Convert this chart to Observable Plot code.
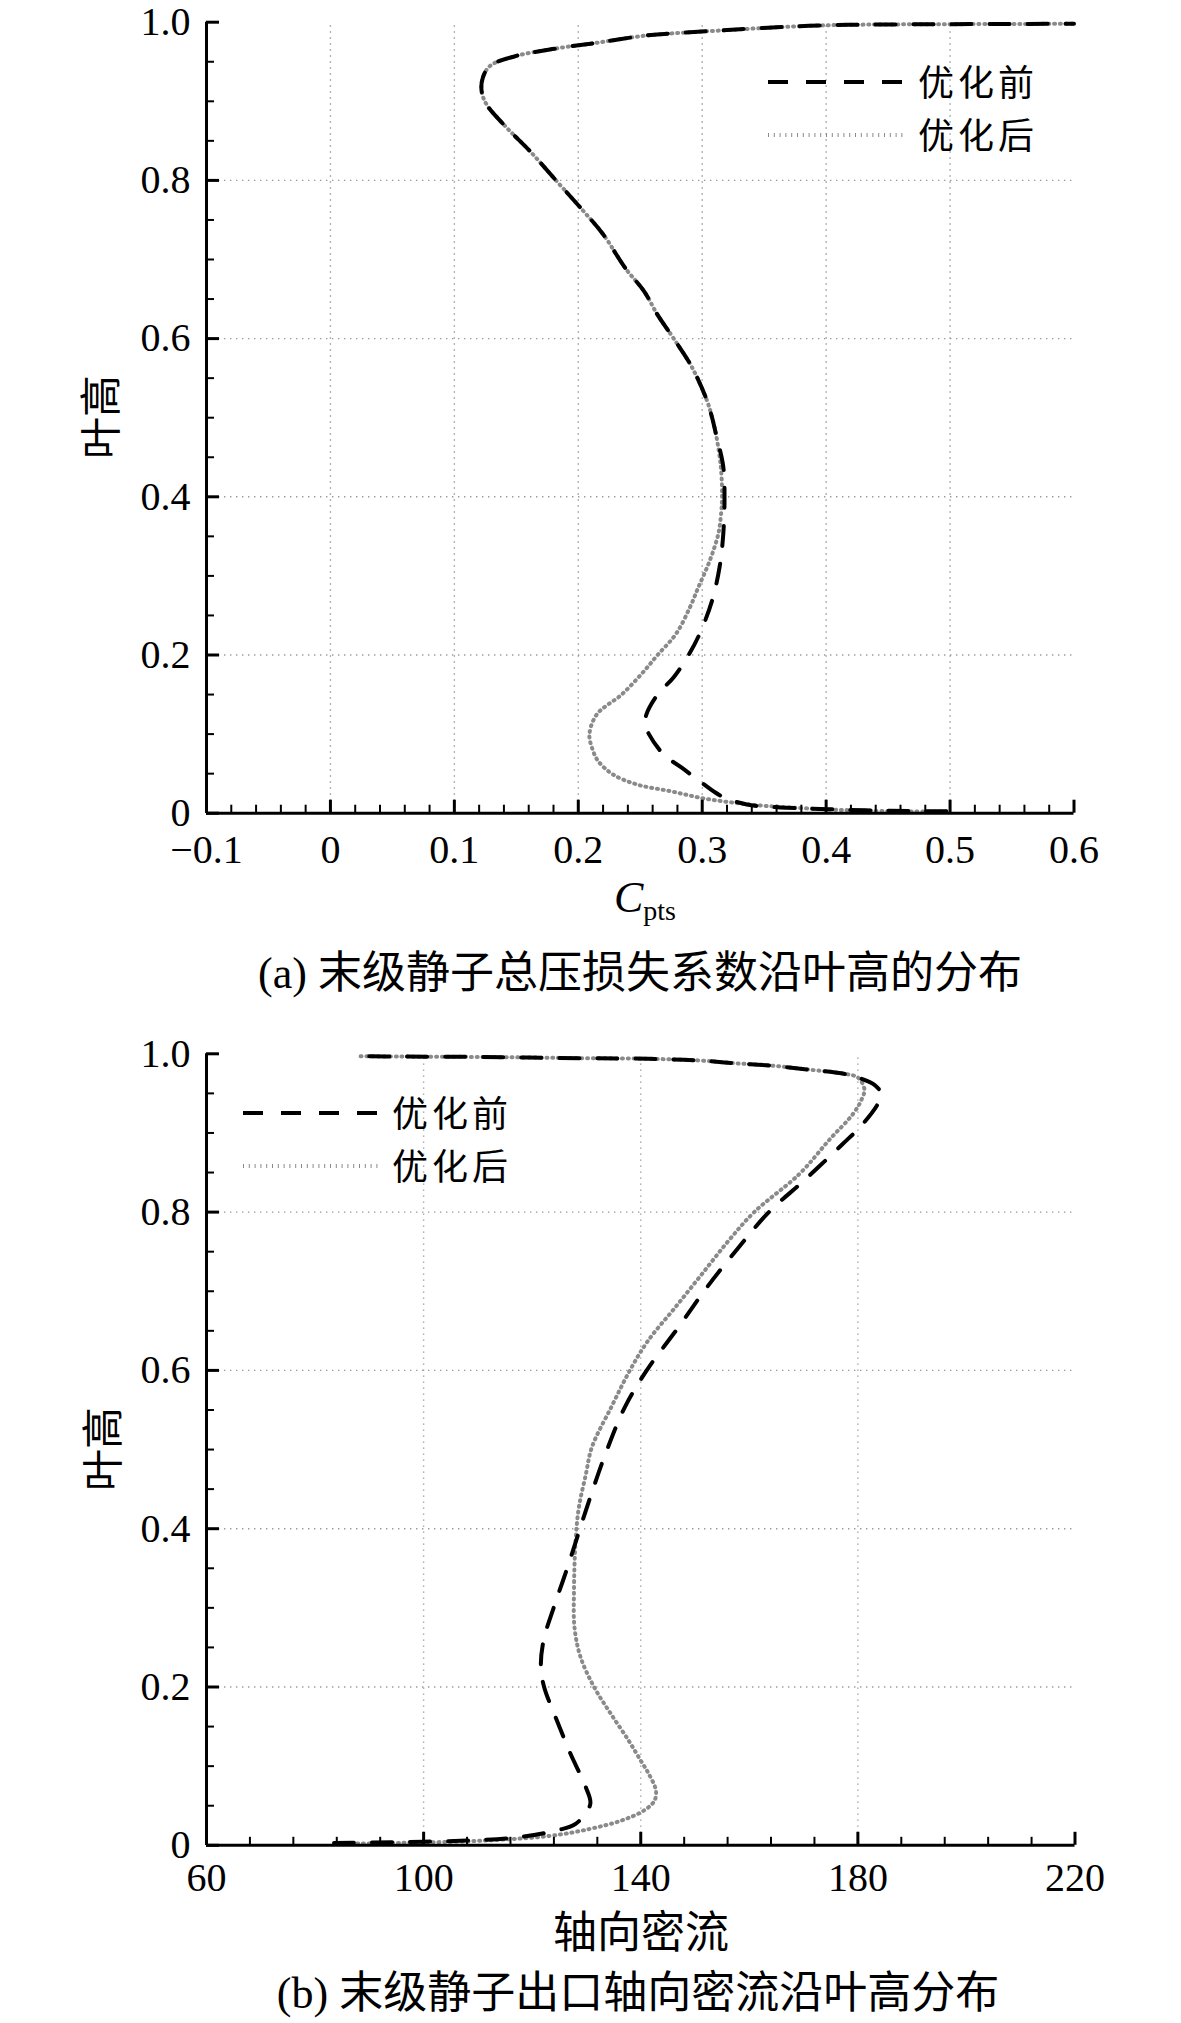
<!DOCTYPE html>
<html>
<head>
<meta charset="utf-8">
<script src="https://cdn.jsdelivr.net/npm/d3@7"></script>
<script src="https://cdn.jsdelivr.net/npm/@observablehq/plot@0.6"></script>
<style>
  html, body { margin: 0; padding: 0; background: #fff; }
  #root { position: relative; width: 1181px; height: 2023px; overflow: hidden; background: #fff; }
  #root > svg { position: absolute; left: 0; }
</style>
</head>
<body>
<div id="root"></div>
<script>
// ---------- Panel (a): total pressure loss coefficient vs blade height ----------
const cptsXTicks = [-0.1, 0, 0.1, 0.2, 0.3, 0.4, 0.5, 0.6];
const cptsXTickLabels = ["\u22120.1", "0", "0.1", "0.2", "0.3", "0.4", "0.5", "0.6"];
const cptsXGrid = [0, 0.1, 0.2, 0.3, 0.4, 0.5];
const heightTicks = [0, 0.2, 0.4, 0.6, 0.8, 1.0];
const heightTickLabels = ["0", "0.2", "0.4", "0.6", "0.8", "1.0"];
const heightGrid = [0.2, 0.4, 0.6, 0.8];

// shared upper part (both series coincide above ~0.5 blade height)
const cptsUpperX = [0.308, 0.304, 0.292, 0.277, 0.264, 0.253, 0.238, 0.220, 0.202, 0.182, 0.161, 0.142, 0.126, 0.122, 0.123, 0.129, 0.149, 0.179, 0.215, 0.254, 0.287, 0.320, 0.353, 0.386, 0.418, 0.500, 0.600];
const cptsUpperY = [0.500, 0.521, 0.563, 0.600, 0.630, 0.660, 0.689, 0.732, 0.765, 0.800, 0.837, 0.867, 0.896, 0.913, 0.930, 0.945, 0.957, 0.966, 0.974, 0.983, 0.987, 0.990, 0.993, 0.9954, 0.9967, 0.9975, 0.998];

// 优化前 (before optimisation), lower part
const cptsBeforeX = [0.497, 0.451, 0.402, 0.369, 0.336, 0.315, 0.300, 0.284, 0.269, 0.257, 0.254, 0.255, 0.264, 0.277, 0.289, 0.298, 0.308, 0.314, 0.317, 0.318, 0.317, 0.311];
const cptsBeforeY = [0.0025, 0.003, 0.005, 0.007, 0.011, 0.022, 0.038, 0.057, 0.074, 0.100, 0.112, 0.125, 0.150, 0.172, 0.200, 0.227, 0.269, 0.311, 0.353, 0.400, 0.438, 0.480];

// 优化后 (after optimisation), lower part
const cptsAfterX = [0.497, 0.435, 0.386, 0.353, 0.327, 0.300, 0.274, 0.248, 0.228, 0.216, 0.211, 0.209, 0.215, 0.235, 0.251, 0.264, 0.279, 0.290, 0.297, 0.304, 0.309, 0.313, 0.315, 0.316, 0.315, 0.311];
const cptsAfterY = [0.002, 0.003, 0.006, 0.009, 0.013, 0.019, 0.028, 0.036, 0.049, 0.066, 0.083, 0.100, 0.125, 0.150, 0.176, 0.200, 0.227, 0.260, 0.286, 0.311, 0.332, 0.353, 0.375, 0.400, 0.438, 0.480];

// ---------- Panel (b): axial mass flux vs blade height ----------
const fluxXTicks = [60, 100, 140, 180, 220];
const fluxXTickLabels = ["60", "100", "140", "180", "220"];
const fluxXGrid = [100, 140, 180];

const fluxBeforeX = [83.5, 95.8, 108.0, 117.3, 124.6, 128.0, 130.7, 129.9, 127.1, 124.3, 122.2, 121.6, 122.1, 124.0, 126.5, 128.8, 131.1, 133.8, 137.1, 141.1, 147.0, 152.2, 158.1, 163.6, 170.1, 177.2, 180.6, 183.7, 184.3, 183.2, 180.0, 177.2, 171.0, 164.2, 157.5, 150.7, 141.4, 129.1, 110.6, 96.0, 88.0];
const fluxBeforeY = [0.003, 0.004, 0.006, 0.010, 0.019, 0.027, 0.052, 0.073, 0.115, 0.162, 0.200, 0.225, 0.259, 0.301, 0.351, 0.400, 0.448, 0.500, 0.554, 0.600, 0.655, 0.705, 0.756, 0.800, 0.840, 0.886, 0.909, 0.937, 0.949, 0.960, 0.970, 0.975, 0.980, 0.985, 0.988, 0.9916, 0.9937, 0.9945, 0.996, 0.9965, 0.997];

const fluxAfterX = [83.5, 95.8, 111.1, 123.4, 130.8, 136.3, 140.6, 142.5, 142.8, 141.5, 140.0, 137.8, 134.5, 131.4, 128.9, 127.8, 127.7, 128.0, 128.6, 129.9, 131.0, 134.6, 138.0, 141.4, 146.4, 151.3, 156.2, 160.9, 169.2, 174.7, 179.1, 180.6, 181.2, 180.0, 177.2, 171.0, 164.2, 157.5, 150.7, 141.4, 129.1, 110.6, 96.0, 88.0];
const fluxAfterY = [0.002, 0.003, 0.006, 0.012, 0.021, 0.031, 0.044, 0.056, 0.069, 0.090, 0.107, 0.132, 0.166, 0.200, 0.238, 0.275, 0.322, 0.385, 0.427, 0.469, 0.503, 0.554, 0.600, 0.638, 0.680, 0.722, 0.764, 0.800, 0.848, 0.891, 0.924, 0.941, 0.955, 0.970, 0.975, 0.980, 0.985, 0.988, 0.9916, 0.9937, 0.9945, 0.996, 0.9965, 0.997];

// ---------- texts ----------
const legendLabels = ["优化前", "优化后"];
const captionA = "(a) 末级静子总压损失系数沿叶高的分布";
const captionB = "(b) 末级静子出口轴向密流沿叶高分布";
const yTitle = "叶高";
const xTitleB = "轴向密流";

// ---------- helpers ----------
const zip = (xs, ys) => xs.map((x, i) => ({x, y: ys[i]}));
const W = 1181;
const FONT_SERIF = '"Liberation Serif", "Times New Roman", serif';
const FONT_CJK = '"Liberation Serif", "Noto Sans CJK SC", serif';
const DOT = {stroke: "#8a8a8a", width: 4, dash: "1,4.8"};
const DASH = {stroke: "#000", width: 4, dash: "20,18"};

function minorTicks(domain, step, majors) {
  const n = Math.round((domain[1] - domain[0]) / step);
  const out = [];
  for (let i = 0; i <= n; i++) {
    const v = +(domain[0] + i * step).toFixed(6);
    if (!majors.some(m => Math.abs(m - v) < 1e-9)) out.push(v);
  }
  return out;
}

function panel(cfg) {
  const {H, mt, mb, ml, mr, xDomain, xTicks, xLabels, xMinorStep, xGrid, before, after, tickPadX} = cfg;
  const innerH = H - mt - mb, innerW = W - ml - mr;
  const ky = 1 / innerH;
  const kx = (xDomain[1] - xDomain[0]) / innerW;
  const xMinor = minorTicks(xDomain, xMinorStep, xTicks);
  const yMinor = minorTicks([0, 1], 0.05, heightTicks);
  const xMap = new Map(xTicks.map((d, i) => [d, xLabels[i]]));
  const yMap = new Map(heightTicks.map((d, i) => [d, heightTickLabels[i]]));
  const x0 = xDomain[0];
  return Plot.plot({
    width: W, height: H,
    marginTop: mt, marginBottom: mb, marginLeft: ml, marginRight: mr,
    style: {fontFamily: FONT_SERIF, fontSize: "40px", color: "#000", background: "transparent", overflow: "visible"},
    x: {domain: xDomain},
    y: {domain: [0, 1]},
    marks: [
      Plot.ruleX(xGrid, {y1: 0, y2: 1, stroke: "#9a9a9a", strokeWidth: 1.4, strokeDasharray: "1.4,4.6"}),
      Plot.ruleY(heightGrid, {x1: xDomain[0], x2: xDomain[1], stroke: "#9a9a9a", strokeWidth: 1.4, strokeDasharray: "1.4,4.6"}),
      Plot.line(after, {x: "x", y: "y", curve: "catmull-rom", stroke: DOT.stroke, strokeWidth: DOT.width, strokeDasharray: DOT.dash}),
      Plot.line(before, {x: "x", y: "y", curve: "catmull-rom", stroke: DASH.stroke, strokeWidth: DASH.width, strokeDasharray: DASH.dash}),
      Plot.ruleY([0], {x1: xDomain[0], x2: xDomain[1], stroke: "#000", strokeWidth: 3}),
      Plot.ruleX([x0], {y1: 0, y2: 1, stroke: "#000", strokeWidth: 3}),
      Plot.ruleX(xTicks, {y1: 0, y2: 13 * ky, stroke: "#000", strokeWidth: 3}),
      Plot.ruleX(xMinor, {y1: 0, y2: 8 * ky, stroke: "#000", strokeWidth: 2}),
      Plot.ruleY(heightTicks, {x1: x0, x2: x0 + 13 * kx, stroke: "#000", strokeWidth: 3}),
      Plot.ruleY(yMinor, {x1: x0, x2: x0 + 8 * kx, stroke: "#000", strokeWidth: 2}),
      Plot.axisX({ticks: xTicks, tickSize: 0, tickPadding: tickPadX, tickFormat: d => xMap.get(d), label: null, fontSize: 40}),
      Plot.axisY({ticks: heightTicks, tickSize: 0, tickPadding: 16, tickFormat: d => yMap.get(d), label: null, fontSize: 40})
    ]
  });
}

const root = document.getElementById("root");

const svgA = panel({
  H: 880, mt: 21.7, mb: 880 - 812.7, ml: 206, mr: W - 1073.5,
  xDomain: [-0.1, 0.6], xTicks: cptsXTicks, xLabels: cptsXTickLabels, xMinorStep: 0.02, xGrid: cptsXGrid,
  before: zip(cptsBeforeX.concat(cptsUpperX), cptsBeforeY.concat(cptsUpperY)),
  after: zip(cptsAfterX.concat(cptsUpperX), cptsAfterY.concat(cptsUpperY)),
  tickPadX: 21.6
});
svgA.style.top = "0px";
root.appendChild(svgA);

const svgB = panel({
  H: 880, mt: 23.3, mb: 880 - (1844.8 - 1030), ml: 206, mr: W - 1074.5,
  xDomain: [60, 220], xTicks: fluxXTicks, xLabels: fluxXTickLabels, xMinorStep: 8, xGrid: fluxXGrid,
  before: zip(fluxBeforeX, fluxBeforeY),
  after: zip(fluxAfterX, fluxAfterY),
  tickPadX: 16.8
});
svgB.style.top = "1030px";
root.appendChild(svgB);

// ---------- overlay: titles, captions, legends ----------
const ov = d3.select(root).append("svg")
  .attr("width", W).attr("height", 2023)
  .style("top", "0px").style("pointer-events", "none");

// y titles
[[116, 417], [118, 1449]].forEach(([x, y]) => {
  ov.append("text").attr("transform", `translate(${x},${y}) rotate(-90)`)
    .attr("text-anchor", "middle").attr("font-family", FONT_CJK).attr("font-size", 42)
    .text(yTitle);
});

// x title (a): C_pts
const ct = ov.append("text").attr("x", 645).attr("y", 912).attr("text-anchor", "middle")
  .attr("font-family", FONT_SERIF).attr("font-size", 44);
ct.append("tspan").attr("font-style", "italic").text("C");
ct.append("tspan").attr("font-size", 28).attr("dy", 8).text("pts");

// x title (b)
ov.append("text").attr("x", 641).attr("y", 1948).attr("text-anchor", "middle")
  .attr("font-family", FONT_CJK).attr("font-size", 44).text(xTitleB);

// captions
ov.append("text").attr("x", 640).attr("y", 988).attr("text-anchor", "middle")
  .attr("font-family", FONT_CJK).attr("font-size", 44).text(captionA);
ov.append("text").attr("x", 638).attr("y", 2008).attr("text-anchor", "middle")
  .attr("font-family", FONT_CJK).attr("font-size", 44).text(captionB);

// legends
function legend(x1, x2, tx, rows) {
  const styles = [DASH, DOT];
  rows.forEach((ry, i) => {
    ov.append("line").attr("x1", x1).attr("x2", x2).attr("y1", ry).attr("y2", ry)
      .attr("stroke", styles[i].stroke).attr("stroke-width", styles[i].width)
      .attr("stroke-dasharray", styles[i].dash);
    ov.append("text").attr("x", tx).attr("y", ry + 14)
      .attr("font-family", '"Noto Sans CJK SC", sans-serif').attr("font-size", 36)
      .attr("letter-spacing", 4)
      .text(legendLabels[i]);
  });
}
legend(768, 907, 918, [82, 135]);
legend(243, 380, 392, [1113, 1166]);
</script>
</body>
</html>
